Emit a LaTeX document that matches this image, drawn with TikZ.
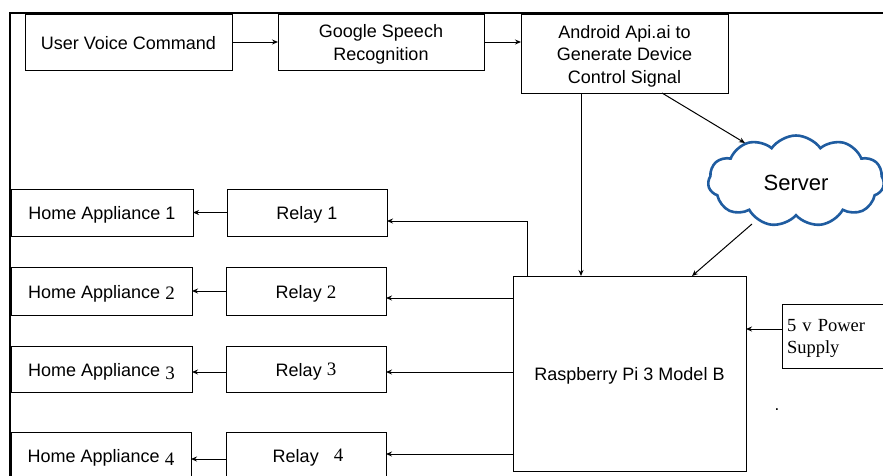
\documentclass[tikz,border=0pt]{standalone}
\usepackage{fontspec}
\setmainfont{Liberation Sans}
\newfontfamily\tms{Liberation Serif}
\usetikzlibrary{shapes.symbols,calc,arrows.meta}
\definecolor{cloudblue}{RGB}{31,92,160}
\newcommand{\nm}[2][0pt]{{\tms\fontsize{19}{22}\selectfont\raisebox{#1}{#2}}}
\tikzset{
  box/.style={draw, line width=1pt, rectangle, inner sep=0pt, outer sep=0pt, fill=white},
  lbl/.style={inner sep=0pt, align=center, yshift=-2.5pt, font=\fontsize{18}{22.5}\selectfont},
  arr/.style={line width=1pt, -{Stealth[length=6pt,width=5pt]}},
  frame/.style={line width=1.3pt}
}
\begin{document}
\begin{tikzpicture}[x=1pt,y=-1pt]
\useasboundingbox (0,0) rectangle (883,475);
\clip (0,0) rectangle (883,475);
\fill[white] (0,0) rectangle (883,475);
\draw[frame] (883,13) -- (10,13) -- (10,476);

% boxes
\node[box, minimum width=207pt, minimum height=56pt] (uvc) at (128.5,42) {};
\node[box, minimum width=206pt, minimum height=56pt] (gsr) at (381,42) {};
\node[box, minimum width=207pt, minimum height=79pt] (android) at (624.5,53.5) {};
\node[cloud, cloud puffs=11, cloud puff arc=110, aspect=2, draw=cloudblue, line width=2.6pt, fill=white,
  minimum width=176pt, minimum height=91pt, inner sep=0pt] (cloud) at (796,181) {};
\node[box, minimum width=233pt, minimum height=195pt] (rpi) at (629.5,373.5) {};
\node[box, minimum width=160pt, minimum height=47pt] (relay1) at (307,212.5) {};
\node[box, minimum width=182pt, minimum height=47pt] (ha1) at (102,212.5) {};
\node[box, minimum width=160pt, minimum height=48pt] (relay2) at (306,291) {};
\node[box, minimum width=181pt, minimum height=48pt] (ha2) at (101.5,291) {};
\node[box, minimum width=160pt, minimum height=46pt] (relay3) at (306,369) {};
\node[box, minimum width=181pt, minimum height=46pt] (ha3) at (101.5,369) {};
\node[box, minimum width=160pt, minimum height=47pt] (relay4) at (306,455.5) {};
\node[box, minimum width=180pt, minimum height=47pt] (ha4) at (101,455.5) {};
\node[box, minimum width=108pt, minimum height=64pt] (power) at (836,336) {};

% texts
\node[lbl, yshift=1pt] (uvct) at (uvc) {User Voice Command};
\node[lbl] (gsrt) at (gsr) {Google Speech\\Recognition};
\node[lbl] (androidt) at (android) {Android Api.ai to\\Generate Device\\Control Signal};
\node[lbl, font=\fontsize{22}{26}\selectfont, yshift=0.5pt] (cloudt) at (cloud) {Server};
\node[lbl] (rpit) at (rpi) {Raspberry Pi 3 Model B};
\node[lbl] (relay1t) at (relay1) {Relay 1};
\node[lbl] (ha1t) at (ha1) {Home Appliance 1};
\node[lbl] (relay2t) at (relay2) {Relay \nm{2}};
\node[lbl] (ha2t) at (ha2) {Home Appliance \nm[-1pt]{2}};
\node[lbl] (relay3t) at (relay3) {Relay \nm[1pt]{3}};
\node[lbl] (ha3t) at (ha3) {Home Appliance \nm[-3pt]{3}};
\node[lbl, xshift=2pt] (relay4t) at (relay4) {Relay\hspace{15pt}\nm[1pt]{4}};
\node[lbl] (ha4t) at (ha4) {Home Appliance \nm[-3pt]{4}};
\node[lbl, text width=98pt, align=left, font=\tms\fontsize{18.5}{22}\selectfont] (powert) at (power) {5 v Power\\Supply};
\node[font=\fontsize{17}{20}\selectfont, inner sep=0pt] (dot) at (777,410) {.};

% top chain
\draw[arr] (uvc.east) -- (gsr.west);
\draw[arr] (gsr.east) -- (gsr.east -| android.west);
\draw[arr] ($(android.south west)+(60,0)$) coordinate (a1) -- (a1 |- rpi.north);
\draw[arr] ($(android.south west)+(141,0)$) -- ($(cloud.center)+(-51,-38)$);
\draw[arr] ($(cloud.center)+(-44,43)$) -- ($(rpi.north west)+(179,0)$);

% rpi to relays
\draw[arr] ($(rpi.north west)+(14,0)$) |- ($(relay1.east)+(0,8.5)$);
\coordinate (r2) at ($(relay2.east)+(0,7)$);
\draw[arr] (rpi.west |- r2) -- (r2);
\coordinate (r3) at ($(relay3.east)+(0,3)$);
\draw[arr] (rpi.west |- r3) -- (r3);
\coordinate (r4) at ($(relay4.east)+(0,-1.5)$);
\draw[arr] (rpi.west |- r4) -- (r4);

% relays to appliances
\draw[arr] (relay1.west) -- (relay1.west -| ha1.east);
\draw[arr] (relay2.west) -- (relay2.west -| ha2.east);
\coordinate (h3) at ($(relay3.west)+(0,3)$);
\draw[arr] (h3) -- (h3 -| ha3.east);
\coordinate (h4) at ($(relay4.west)+(0,3.5)$);
\draw[arr] (h4) -- (h4 -| ha4.east);

% power
\coordinate (p1) at ($(power.west)+(0,-7)$);
\draw[arr] (p1) -- (p1 -| rpi.east);
\end{tikzpicture}
\end{document}
